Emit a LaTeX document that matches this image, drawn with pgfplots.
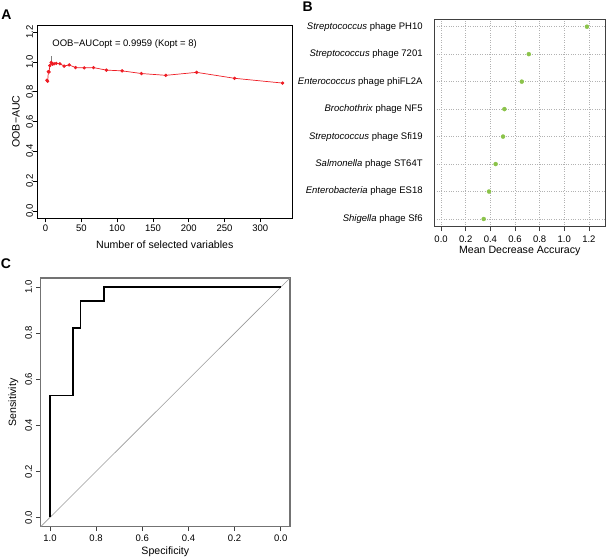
\documentclass[border=0pt]{standalone}
\usepackage{fontspec}
\setmainfont{Liberation Sans}
\usepackage{pgfplots}
\pgfplotsset{compat=1.18}
\definecolor{ptgreen}{RGB}{139,195,74}
\definecolor{ptred}{RGB}{238,28,36}
\begin{document}
\begin{tikzpicture}
\useasboundingbox (0,0) rectangle (609bp,559bp);
\pgfplotsset{
  every axis/.append style={
    scale only axis, anchor=south west,
    font=\fontsize{9.5bp}{11bp}\selectfont,
    /pgf/number format/assume math mode=true,
    tick align=outside, major tick length=4.5bp,
    xtick pos=bottom, ytick pos=left,
    label style={font=\fontsize{10.6bp}{12bp}\selectfont},
    tick label style={inner sep=0pt},
    xticklabel style={anchor=center},
    xlabel style={anchor=center, inner sep=0pt},
    ylabel style={anchor=center, inner sep=0pt},
  },
}
\node[font=\bfseries\fontsize{14bp}{16bp}\selectfont] at (6.5bp,544bp) {A};
\node[font=\bfseries\fontsize{14bp}{16bp}\selectfont] at (307.7bp,552.3bp) {B};
\node[font=\bfseries\fontsize{14bp}{16bp}\selectfont] at (6bp,295.7bp) {C};

% Panel A
\begin{axis}[at={(37.5bp,341bp)}, width=254.5bp, height=193bp,
  xmin=-11.2, xmax=344.2, ymin=-0.048, ymax=1.248,
  xtick={0,50,100,150,200,250,300},
  ytick={0,0.2,0.4,0.6,0.8,1.0,1.2},
  yticklabel={\pgfmathprintnumber[fixed,fixed zerofill,precision=1]{\tick}},
  yticklabel style={rotate=90, anchor=center},
  xticklabel shift=5.8bp, yticklabel shift=3.5bp,
  xlabel={Number of selected variables},
  ylabel={OOB−AUC},
  xlabel style={at={(axis description cs:0.5,-0.140)}},
  ylabel style={at={(axis description cs:-0.0845,0.5)}},
  axis line style={black, line width=0.7bp},
  tick style={black, line width=0.6bp},
]
\addplot[color=ptred, line width=0.7bp, mark=*, mark size=1.3bp,
  mark options={fill=ptred, draw=ptred}] coordinates {
(2,0.877) (3,0.870) (4,0.935) (5,0.933) (6,0.975) (8,0.9959) (10,0.985)
(12,0.988) (15,0.990) (20,0.988) (26,0.972) (33,0.980) (42,0.962)
(54,0.960) (67,0.962) (85,0.945) (107,0.940) (134,0.922) (168,0.910)
(211,0.930) (264,0.890) (331,0.858)};
\addplot[gray, line width=0.5bp] coordinates {(8,1.005) (8,1.040)};
\node[anchor=west, inner sep=0pt] at (axis cs:9.4,1.12) {OOB−AUCopt = 0.9959 (Kopt = 8)};
\end{axis}

% Panel B
\begin{axis}[at={(434.3bp,332.3bp)}, width=171bp, height=207.7bp,
  xmin=-0.055, xmax=1.333, ymin=0.72, ymax=8.28,
  xtick={0,0.2,0.4,0.6,0.8,1.0,1.2},
  xticklabel={\pgfmathprintnumber[fixed,fixed zerofill,precision=1]{\tick}},
  ytick={1,2,3,4,5,6,7,8},
  yticklabels={{\textit{Shigella} phage Sf6},{\textit{Enterobacteria} phage ES18},
    {\textit{Salmonella} phage ST64T},{\textit{Streptococcus} phage Sfi19},
    {\textit{Brochothrix} phage NF5},{\textit{Enterococcus} phage phiFL2A},
    {\textit{Streptococcus} phage 7201},{\textit{Streptococcus} phage PH10}},
  yticklabel style={anchor=east},
  xticklabel shift=7.8bp, yticklabel shift=7bp,
  ytick style={draw=none},
  grid=major, grid style={dotted, black!30, line width=0.6bp},
  xlabel={Mean Decrease Accuracy},
  xlabel style={at={(axis description cs:0.5,-0.118)}},
  axis line style={black!75, line width=0.7bp},
  tick style={black!75, line width=0.6bp},
]
\addplot[only marks, mark=*, mark size=2bp, color=ptgreen] coordinates {
(0.346,1) (0.389,2) (0.443,3) (0.503,4) (0.514,5) (0.655,6) (0.712,7) (1.184,8)};
\end{axis}

% Panel C
\begin{axis}[at={(40.7bp,32.3bp)}, width=249.3bp, height=248.7bp,
  x dir=reverse,
  xmin=-0.04, xmax=1.04, ymin=-0.04, ymax=1.04,
  xtick={0,0.2,0.4,0.6,0.8,1.0},
  ytick={0,0.2,0.4,0.6,0.8,1.0},
  xticklabel={\pgfmathprintnumber[fixed,fixed zerofill,precision=1]{\tick}},
  yticklabel={\pgfmathprintnumber[fixed,fixed zerofill,precision=1]{\tick}},
  yticklabel style={rotate=90, anchor=center},
  xticklabel shift=7bp, yticklabel shift=7.5bp,
  xlabel={Specificity}, ylabel={Sensitivity},
  xlabel style={at={(axis description cs:0.5,-0.1005)}},
  ylabel style={at={(axis description cs:-0.11,0.5)}},
  axis line style={black!55, line width=1.2bp},
  tick style={black!75, line width=0.6bp},
]
\addplot[black!40, line width=0.6bp] coordinates {(1.04,-0.04) (-0.04,1.04)};
\addplot[black, line width=1.6bp] coordinates {
(1,0) (1,0.529) (0.9,0.529) (0.9,0.824) (0.867,0.824) (0.867,0.941)
(0.767,0.941) (0.767,1) (0,1)};
\end{axis}
\end{tikzpicture}
\end{document}
